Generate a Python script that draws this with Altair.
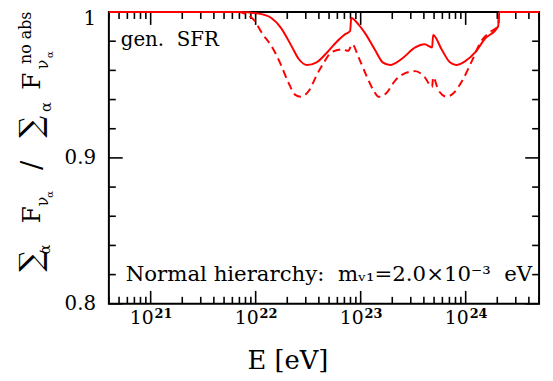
import altair as alt
import pandas as pd

# ---- data ----
E_solid = [4e20, 6.9e21, 1.07e22, 1.41e22, 1.74e22, 2.19e22, 2.57e22, 3.09e22, 3.80e22,
           4.79e22, 5.89e22, 7.08e22, 7.94e22, 8.13e22, 9.55e22, 1.12e23, 1.38e23,
           1.62e23, 1.91e23, 2.45e23, 3.31e23, 4.07e23, 4.79e23, 4.90e23, 5.89e23,
           7.08e23, 8.13e23, 9.77e23, 1.23e24, 1.51e24, 2.04e24, 2.09e24, 5e24]
F_solid = [1.0, 1.0, 0.9989, 0.9959, 0.9892, 0.9768, 0.9678, 0.9637, 0.9655,
           0.9723, 0.9795, 0.9847, 0.9870, 0.9959, 0.9914, 0.9847, 0.9736,
           0.9655, 0.9637, 0.9678, 0.9757, 0.9779, 0.9757, 0.9843, 0.9745,
           0.9655, 0.9637, 0.9660, 0.9723, 0.9813, 0.9903, 1.0, 1.0]

E_dashed = [4e20, 6.9e21, 7.8e21, 9.55e21, 1.17e22, 1.41e22, 1.70e22, 2.04e22, 2.40e22,
            2.69e22, 3.24e22, 3.80e22, 4.47e22, 5.25e22, 6.76e22, 7.59e22, 8.32e22,
            9.55e22, 1.15e23, 1.35e23, 1.48e23, 1.74e23, 2.14e23, 2.69e23, 3.31e23,
            4.07e23, 4.79e23, 4.90e23, 5.50e23, 6.61e23, 7.59e23, 9.12e23, 1.15e24,
            1.38e24, 1.66e24, 2.04e24, 2.09e24, 5e24]
F_dashed = [1.0, 1.0, 0.999, 0.9948, 0.9847, 0.9768, 0.9655, 0.9520, 0.9430,
            0.9419, 0.9464, 0.9566, 0.9655, 0.9723, 0.9745, 0.9734, 0.9779,
            0.9689, 0.9554, 0.9453, 0.9419, 0.9441, 0.9532, 0.9583, 0.9595,
            0.9554, 0.9486, 0.9554, 0.9464, 0.9419, 0.9441, 0.9520, 0.9667,
            0.9791, 0.9858, 0.9903, 1.0, 1.0]

x_label_ticks = [1e21, 1e22, 1e23, 1e24]
x_label_exponents = ["21", "22", "23", "24"]
x_minor_ticks = [m * 10.0 ** p for p in range(20, 25) for m in range(2, 10)
                 if 4e20 <= m * 10.0 ** p <= 5e24]
y_label_ticks = [0.8, 0.9, 1.0]
y_label_texts = ["0.8", "0.9", "1"]
y_minor_ticks = [0.82, 0.84, 0.86, 0.88, 0.92, 0.94, 0.96, 0.98]

X_TITLE = "E [eV]"
NOTE_TOP = "gen.\u00a0\u00a0SFR"
NOTE_BOTTOM = "Normal hierarchy:\u00a0\u00a0mᵥ₁=2.0×10⁻³\u00a0\u00a0eV"

# ---- layout ----
W, H = 435, 295
Y_MIN, Y_MAX = 0.8, 1.0
FONT = "DejaVu Serif"
RED = "#ff0000"

df_s = pd.DataFrame({"E": E_solid, "F": F_solid})
df_d = pd.DataFrame({"E": E_dashed, "F": F_dashed})
df_xmaj = pd.DataFrame({"v": x_label_ticks, "exp": x_label_exponents})
df_xmin = pd.DataFrame({"v": x_minor_ticks})
df_ymaj = pd.DataFrame({"v": y_label_ticks})
df_ymin = pd.DataFrame({"v": y_minor_ticks})
one = pd.DataFrame({"a": [0]})

xs = alt.Scale(type="log", domain=[4e20, 5e24], nice=False)
ys = alt.Scale(domain=[Y_MIN, Y_MAX], nice=False, zero=False)

solid = alt.Chart(df_s).mark_line(color=RED, strokeWidth=2, interpolate="monotone").encode(
    x=alt.X("E:Q", scale=xs, axis=None),
    y=alt.Y("F:Q", scale=ys, axis=alt.Axis(
        orient="left", values=y_label_ticks,
        labelExpr="datum.value >= 0.999 ? '1' : format(datum.value, '.1f')",
        ticks=False, tickSize=0, domain=False, grid=False, labelFont=FONT,
        labelFontSize=20, labelColor="black", labelPadding=13,
        labelOffset={"condition": {"test": "datum.value >= 0.999", "value": 5}, "value": 0},
        title=None)),
)

dashed = alt.Chart(df_d).mark_line(color=RED, strokeWidth=2, strokeDash=[8, 5],
                                   interpolate="monotone").encode(
    x=alt.X("E:Q", scale=xs, axis=None),
    y=alt.Y("F:Q", scale=ys, axis=None),
)


def x_ticks(df, length):
    base = alt.Chart(df).mark_rule(color="black", strokeWidth=1.6)
    return [
        base.encode(x=alt.X("v:Q", scale=xs, axis=None), y=alt.value(H), y2=alt.value(H - length)),
        base.encode(x=alt.X("v:Q", scale=xs, axis=None), y=alt.value(0), y2=alt.value(length)),
    ]


def y_ticks(df, length):
    base = alt.Chart(df).mark_rule(color="black", strokeWidth=1.6)
    return [
        base.encode(y=alt.Y("v:Q", scale=ys, axis=None), x=alt.value(0), x2=alt.value(length)),
        base.encode(y=alt.Y("v:Q", scale=ys, axis=None), x=alt.value(W), x2=alt.value(W - length)),
    ]


tick_layers = x_ticks(df_xmaj, 13) + x_ticks(df_xmin, 7) + y_ticks(df_ymaj, 14) + y_ticks(df_ymin, 7)

# x tick labels: "10" with a raised exponent
lab10 = alt.Chart(df_xmaj).mark_text(font=FONT, fontSize=19, align="right", baseline="middle",
                                     dx=3, color="black").encode(
    x=alt.X("v:Q", scale=xs, axis=None), y=alt.value(309), text=alt.value("10"))
labexp = alt.Chart(df_xmaj).mark_text(font=FONT, fontSize=13, fontWeight="bold", align="left",
                                      baseline="middle", dx=4, color="black").encode(
    x=alt.X("v:Q", scale=xs, axis=None), y=alt.value(305), text="exp:N")

x_title = alt.Chart(one).mark_text(font=FONT, fontSize=26, align="center",
                                   baseline="alphabetic", color="black").encode(
    x=alt.value(181), y=alt.value(361), text=alt.value(X_TITLE))

# y title, composed of pieces (text, x, y, size) in plot pixels, rotated
Y_TITLE_PIECES = [
    ("∑", -77.5, 251.5, 31), ("α", -65, 240, 15), ("F", -78, 205, 25),
    ("ν", -66.5, 191.5, 16), ("α", -59.5, 184.5, 10), ("/", -77, 155, 28),
    ("∑", -77.5, 116, 31), ("α", -64, 96, 15), ("F", -78, 70, 25),
    ("ν", -67, 53, 16), ("α", -60, 43, 10), ("no abs", -84, 26, 16),
]
y_title_layers = [
    alt.Chart(one).mark_text(font=FONT, fontSize=s, angle=270, align="center",
                             baseline="middle", color="black").encode(
        x=alt.value(px), y=alt.value(py), text=alt.value(t))
    for (t, px, py, s) in Y_TITLE_PIECES
]

note_top = alt.Chart(one).mark_text(font=FONT, fontSize=20, align="left",
                                    baseline="middle", color="black").encode(
    x=alt.value(12), y=alt.value(28), text=alt.value(NOTE_TOP))
note_bottom = alt.Chart(one).mark_text(font=FONT, fontSize=21.5, align="right",
                                       baseline="middle", color="black").encode(
    x=alt.value(428), y=alt.value(266), text=alt.value(NOTE_BOTTOM))


# y tick labels, placed where the linear y scale puts each tick value
def y_px(v):
    return H * (Y_MAX - v) / (Y_MAX - Y_MIN)


ylab_layers = [
    alt.Chart(one).mark_text(font=FONT, fontSize=20, align="right", baseline="middle",
                             color="black", dy=(7 if v >= 0.999 else 0)).encode(
        x=alt.value(-13), y=alt.value(y_px(v)), text=alt.value(t))
    for v, t in zip(y_label_ticks, y_label_texts)
]

chart = alt.layer(
    *tick_layers, dashed, solid, lab10, labexp, x_title, *y_title_layers, note_top,
    note_bottom, *ylab_layers
).properties(
    width=W, height=H,
    autosize=alt.AutoSizeParams(type="none"),
    padding={"left": 102, "top": 2, "right": 6, "bottom": 76},
).configure_view(stroke="black", strokeWidth=2)

chart.save("out.html", embed_options={"renderer": "svg", "actions": False})
